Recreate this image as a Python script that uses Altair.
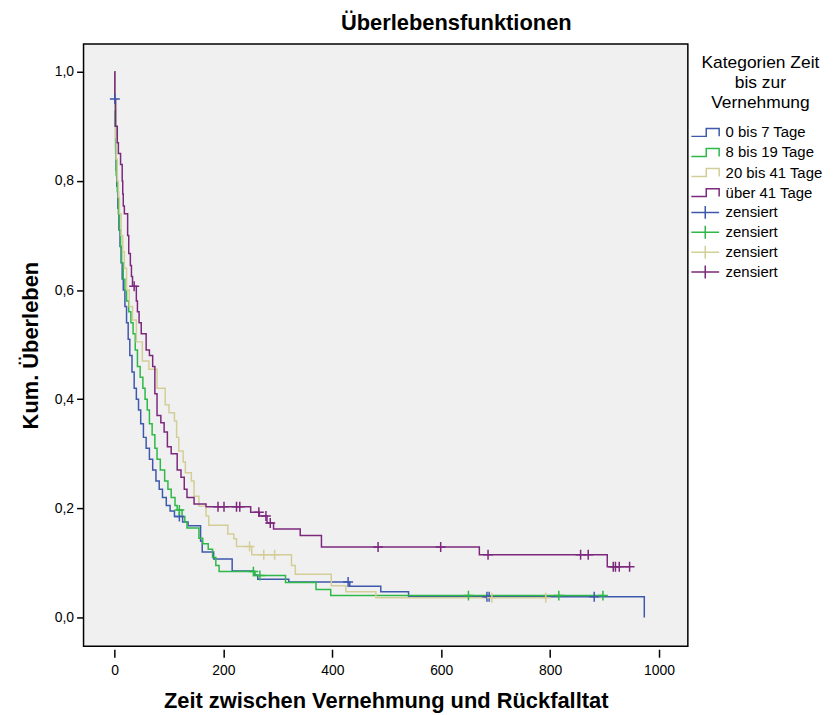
import altair as alt
import pandas as pd

groups = ["0 bis 7 Tage", "8 bis 19 Tage", "20 bis 41 Tage", "über 41 Tage"]
colors = ["#3E58AC", "#2EB848", "#D3CE97", "#7C287D"]
cens_keys = ["z1", "z2", "z3", "z4"]

blue_t = [0, 0.5, 1, 2, 3, 4, 6, 8, 10, 12, 14, 16, 19, 22, 25, 28, 32, 36, 40, 44,
          48, 53, 58, 64, 70, 76, 82, 88, 95, 102, 110, 125, 135, 158, 161, 182, 216,
          256, 263, 320, 432, 489, 540, 973]
blue_s = [1.0, 0.95, 0.90, 0.86, 0.82, 0.79, 0.75, 0.71, 0.68, 0.65, 0.62, 0.60, 0.57,
          0.54, 0.51, 0.48, 0.45, 0.42, 0.40, 0.38, 0.355, 0.33, 0.31, 0.29, 0.27, 0.25,
          0.235, 0.22, 0.205, 0.195, 0.185, 0.175, 0.168, 0.14, 0.12, 0.107, 0.085,
          0.078, 0.07, 0.065, 0.057, 0.047, 0.038, 0.0]
blue_cens = [0.5, 119, 429, 684, 688, 881]

green_t = [0, 0.5, 1, 2, 3, 5, 7, 9, 11, 13, 16, 19, 22, 26, 30, 34, 38, 42, 47, 52,
           56, 60, 64, 69, 74, 78, 84, 92, 98, 104, 111, 115, 124, 129, 133, 155, 162,
           172, 180, 186, 192, 258, 314, 370, 397, 897]
green_s = [1.0, 0.96, 0.90, 0.85, 0.81, 0.78, 0.74, 0.71, 0.68, 0.65, 0.62, 0.60, 0.58,
           0.56, 0.54, 0.52, 0.49, 0.46, 0.44, 0.42, 0.40, 0.38, 0.355, 0.335, 0.31,
           0.29, 0.27, 0.25, 0.235, 0.22, 0.205, 0.197, 0.185, 0.175, 0.164, 0.145,
           0.135, 0.125, 0.11, 0.095, 0.084, 0.077, 0.064, 0.051, 0.040, 0.040]
green_cens = [119, 255, 267, 650, 816, 897]

beige_t = [0, 1, 2, 3, 5, 7, 9, 12, 15, 18, 22, 27, 33, 40, 51, 63, 78, 93, 100, 110,
           114, 118, 126, 130, 141, 146, 155, 168, 173, 208, 219, 224, 252, 325, 332,
           398, 425, 480, 795]
beige_s = [1.0, 0.93, 0.88, 0.84, 0.80, 0.77, 0.74, 0.70, 0.67, 0.64, 0.60, 0.57, 0.545,
           0.505, 0.47, 0.455, 0.42, 0.39, 0.375, 0.36, 0.33, 0.305, 0.285, 0.265, 0.25,
           0.222, 0.204, 0.186, 0.169, 0.153, 0.144, 0.13, 0.115, 0.095, 0.079, 0.058,
           0.047, 0.036, 0.036]
beige_cens = [248, 274, 294, 693, 792]

purple_t = [0, 0.5, 2, 5, 7, 11, 14, 15, 16, 18, 24, 26, 29, 31, 33, 40, 42, 45, 49, 58,
            64, 70, 74, 78, 85, 91, 97, 104, 115, 122, 128, 133, 146, 168, 250, 266, 280,
            292, 341, 380, 670, 905, 946]
purple_s = [1.0, 0.95, 0.90, 0.87, 0.85, 0.83, 0.80, 0.776, 0.754, 0.74, 0.70, 0.667,
            0.645, 0.625, 0.607, 0.58, 0.56, 0.54, 0.52, 0.49, 0.48, 0.46, 0.41, 0.37,
            0.357, 0.34, 0.313, 0.30, 0.27, 0.257, 0.235, 0.22, 0.208, 0.203, 0.193,
            0.186, 0.173, 0.162, 0.15, 0.129, 0.115, 0.093, 0.093]
purple_cens = [36, 190, 201, 224, 230, 265, 278, 286, 484, 599, 686, 856, 870, 916, 920,
               927, 946]

x_ticks = [0, 200, 400, 600, 800, 1000]
y_ticks = [0.0, 0.2, 0.4, 0.6, 0.8, 1.0]

all_t = [blue_t, green_t, beige_t, purple_t]
all_s = [blue_s, green_s, beige_s, purple_s]
all_c = [blue_cens, green_cens, beige_cens, purple_cens]


def step_value(ts, ss, c):
    v = ss[0]
    for t, s in zip(ts, ss):
        if t <= c:
            v = s
    return v


line_rows = []
cens_rows = []
for gi, (g, ts, ss, cs) in enumerate(zip(groups, all_t, all_s, all_c)):
    for i, (t, s) in enumerate(zip(ts, ss)):
        line_rows.append({"grp": g, "t": t, "s": s, "ord": i})
    for c in cs:
        cens_rows.append({"key": cens_keys[gi], "t": c, "s": step_value(ts, ss, c)})

lines_df = pd.DataFrame(line_rows)
cens_df = pd.DataFrame(cens_rows)

FONT = "Liberation Sans"
xscale = alt.Scale(domain=[-57, 1053], nice=False, zero=False)
yscale = alt.Scale(domain=[-0.0528, 1.051], nice=False, zero=False)

step_path = "M-2.8,0.8H0.2V-0.8H2.8V0.8"
cross_legend = "M-2.8,0H2.8M0,-1.3V1.3"
cross_mark = "M-1,0H1M0,-1V1"

xaxis = alt.Axis(values=x_ticks, format="d", title="Zeit zwischen Vernehmung und Rückfalltat",
                 grid=False, domain=False, offset=3, tickSize=8, tickWidth=1.5,
                 tickColor="black", labelFontSize=14, labelFont=FONT, labelColor="black",
                 labelPadding=6, titleFontSize=22, titleFont=FONT, titleFontWeight="bold",
                 titleColor="black", titlePadding=14)
yaxis = alt.Axis(values=y_ticks, title="Kum. Überleben", grid=False, domain=False,
                 tickSize=7, tickWidth=1.5, tickColor="black", labelFontSize=14,
                 labelFont=FONT, labelColor="black", labelPadding=3,
                 labelExpr="replace(format(datum.value, '.1f'), '.', ',')",
                 titleFontSize=22, titleFont=FONT, titleFontWeight="bold",
                 titleColor="black", titlePadding=12)

lines = alt.Chart(lines_df).mark_line(interpolate="step-after", strokeWidth=1.5,
                                      clip=True).encode(
    x=alt.X("t:Q", scale=xscale, axis=xaxis),
    y=alt.Y("s:Q", scale=yscale, axis=yaxis),
    color=alt.Color("grp:N", scale=alt.Scale(domain=groups, range=colors),
                    legend=alt.Legend(
                        title=["Kategorien Zeit", "bis zur", "Vernehmung"],
                        orient="none", legendX=618, legendY=10,
                        titleFontSize=17.5, titleFont=FONT, titleFontWeight="normal",
                        titleColor="black", titleLineHeight=20, titleAlign="center",
                        titleAnchor="middle", titlePadding=14,
                        symbolType=step_path, symbolSize=100, symbolStrokeWidth=1.5,
                        labelFontSize=15, labelFont=FONT, labelColor="black",
                        labelOffset=13, rowPadding=4.2, padding=0)),
    order=alt.Order("ord:Q"),
)

points = alt.Chart(cens_df).mark_point(shape=cross_mark, filled=False, size=100,
                                       strokeWidth=1.5, opacity=1, clip=True).encode(
    x=alt.X("t:Q", scale=xscale),
    y=alt.Y("s:Q", scale=yscale),
    color=alt.Color("key:N", scale=alt.Scale(domain=cens_keys, range=colors),
                    legend=alt.Legend(
                        title=None, orient="none", legendX=618, legendY=162,
                        symbolType=cross_legend, symbolSize=100, symbolStrokeWidth=1.5,
                        labelFontSize=15, labelFont=FONT, labelColor="black",
                        labelOffset=13, rowPadding=1, padding=0,
                        labelExpr="'zensiert'")),
)

chart = alt.layer(lines, points).resolve_scale(color="independent").properties(
    width=608, height=606,
    autosize=alt.AutoSizeParams(type="none"),
    padding={"left": 76, "top": 34, "right": 140, "bottom": 66},
    title=alt.TitleParams(text="Überlebensfunktionen", fontSize=22, font=FONT,
                          fontWeight="bold", color="black", anchor="middle",
                          dx=71, offset=9),
).configure_view(fill="#f0f0f0", stroke="black", strokeWidth=1.5)

chart.save("out.html", embed_options={"renderer": "svg", "actions": False})
